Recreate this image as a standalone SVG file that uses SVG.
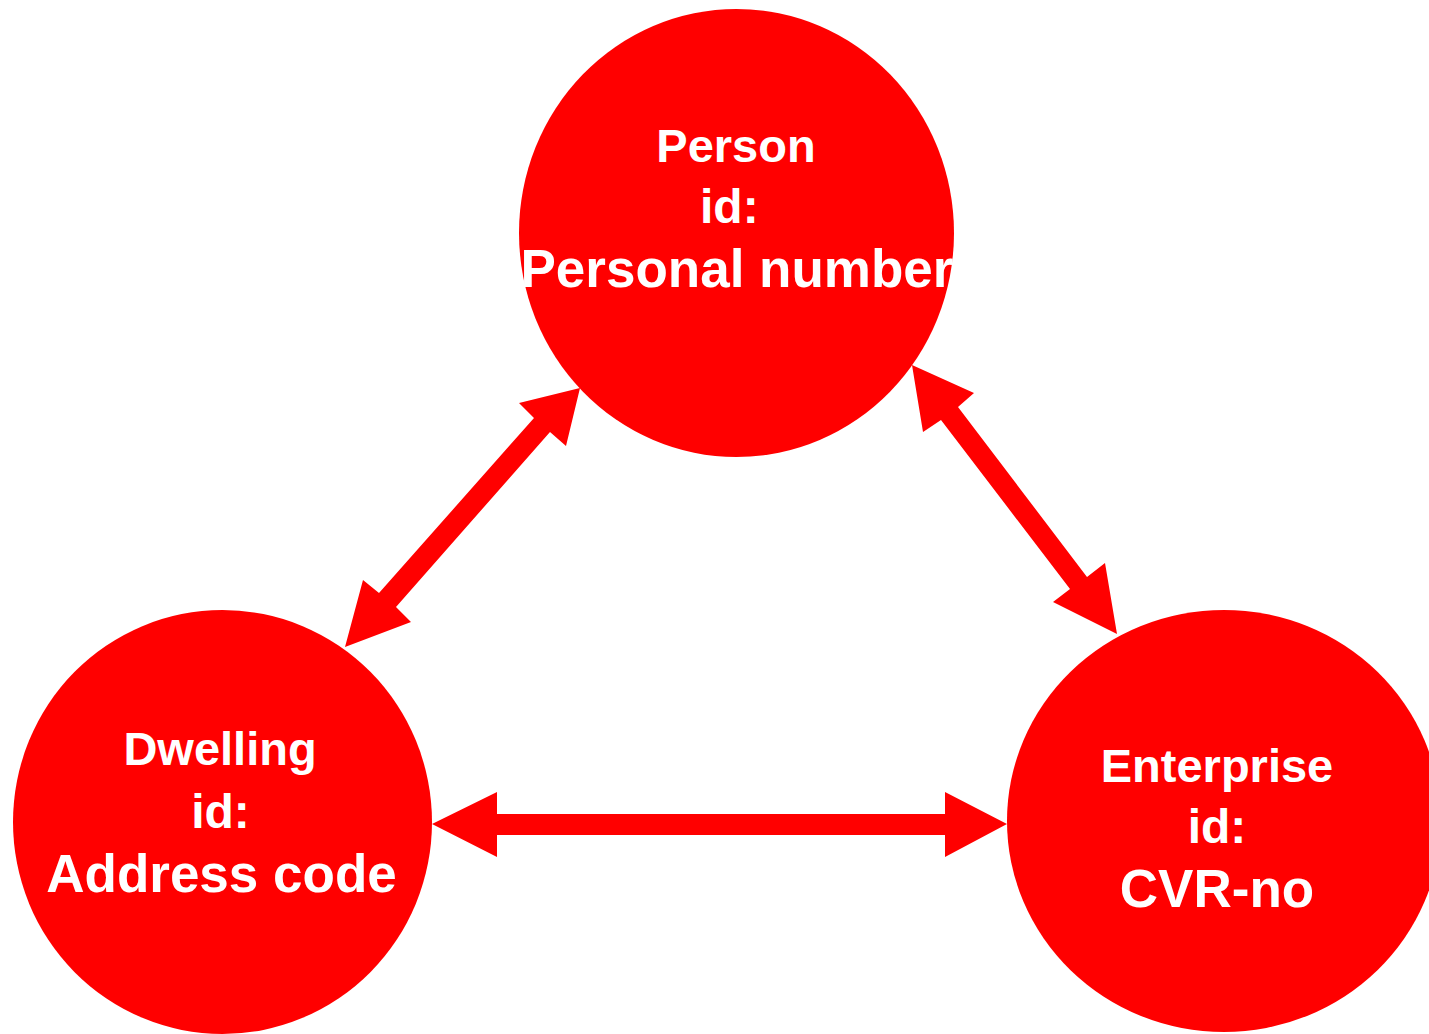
<svg xmlns="http://www.w3.org/2000/svg" width="1429" height="1034" viewBox="0 0 1429 1034">
<style>
.node{fill:#ff0000;}
.arrow{fill:#ff0000;}
text{font-family:"Liberation Sans",Arial,sans-serif;font-weight:bold;fill:#ffffff;text-anchor:middle;}
.l1{font-size:47px;}
.l2{font-size:48px;}
.l3{font-size:53px;}
</style>
<rect width="1429" height="1034" fill="#ffffff"/>
<g id="connectors">
<polygon class="arrow" points="580,388 566,446 550,432 396,607 411,622 345,647 363,580 379,593 534,418 519,403"/>
<polygon class="arrow" points="912,365 974,393 958,407 1087,577 1105,563 1117,634 1053,602 1070,589 941,420 923,432"/>
<polygon class="arrow" points="432,824 497,792 497,814 945,814 945,792 1007,824 945,857 945,835 497,835 497,857"/>
</g>
<g id="person">
<ellipse class="node" cx="736.5" cy="233" rx="217.5" ry="224"/>
<text class="l1" x="736" y="162">Person</text>
<text class="l2" x="736" y="223" xml:space="preserve">id: </text>
<text class="l3" x="737" y="287">Personal number</text>
</g>
<g id="dwelling">
<ellipse class="node" cx="222.5" cy="822" rx="209.5" ry="212"/>
<text class="l1" x="220" y="765">Dwelling</text>
<text class="l2" x="220.5" y="828">id:</text>
<text class="l3" x="221.5" y="892">Address code</text>
</g>
<g id="enterprise">
<ellipse class="node" cx="1224" cy="821" rx="217" ry="211"/>
<text class="l1" x="1217" y="782">Enterprise</text>
<text class="l2" x="1217" y="843">id:</text>
<text class="l3" x="1217" y="907">CVR-no</text>
</g>
</svg>
